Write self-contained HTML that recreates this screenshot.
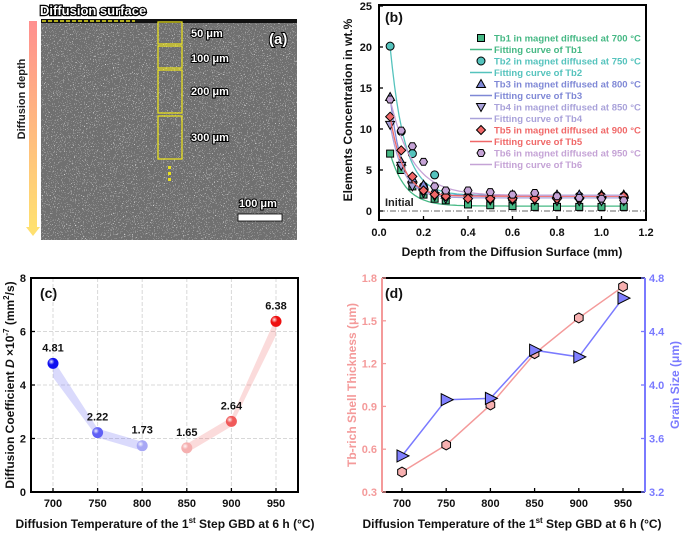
<!DOCTYPE html>
<html><head><meta charset="utf-8"><style>
body{margin:0;background:#fff;}
svg{display:block;font-family:"Liberation Sans",Arial,sans-serif;}
text{font-weight:bold;}
</style></head><body>
<svg id="fig" width="685" height="533" viewBox="0 0 685 533" xmlns="http://www.w3.org/2000/svg">
<defs>
<filter id="sem" x="0" y="0" width="100%" height="100%">
<feTurbulence type="fractalNoise" baseFrequency="0.9" numOctaves="2" seed="3"/>
<feColorMatrix type="matrix" values="0 0 0 0 0  0 0 0 0 0  0 0 0 0 0  2.6 0 0 0 -1.15"/>
<feComponentTransfer><feFuncA type="discrete" tableValues="0 0 0 0.7 1"/></feComponentTransfer>
<feColorMatrix type="matrix" values="0 0 0 0 1  0 0 0 0 1  0 0 0 0 1  0 0 0 1 0"/>
</filter>
<linearGradient id="arrowGrad" x1="0" y1="0" x2="0" y2="1">
<stop offset="0" stop-color="#ff8f8f"/><stop offset="1" stop-color="#ffe070"/>
</linearGradient>
<radialGradient id="ball" cx="0.35" cy="0.35" r="0.7"><stop offset="0" stop-color="#fff" stop-opacity="0.9"/><stop offset="0.4" stop-color="#fff" stop-opacity="0"/></radialGradient>
</defs>

<!-- Panel a -->
<g>
<rect x="41" y="19" width="256" height="221" fill="#707070"/>
<rect x="41" y="19" width="256" height="221" fill="#fff" filter="url(#sem)" opacity="0.75"/>
<rect x="41" y="19" width="256" height="4" fill="#111"/>
<line x1="42" y1="21" x2="135" y2="21" stroke="#e8e020" stroke-width="1.5" stroke-dasharray="4,2"/>
<text x="40" y="15" font-size="13" fill="#fff" stroke="#000" stroke-width="2.5" paint-order="stroke">Diffusion surface</text>
<rect x="29" y="21" width="8" height="206" fill="url(#arrowGrad)"/>
<polygon points="26,227 40,227 33,236" fill="#ffe070"/>
<text transform="translate(25,99) rotate(-90)" font-size="11" text-anchor="middle" fill="#222">Diffusion depth</text>
<g fill="none" stroke="#e8e020" stroke-width="1.3">
<rect x="158" y="22" width="24" height="22"/>
<rect x="158" y="46" width="24" height="22"/>
<rect x="158" y="70" width="24" height="43"/>
<rect x="158" y="116" width="24" height="43"/>
</g>
<g fill="#e8e020"><rect x="168" y="166" width="3" height="3"/><rect x="168" y="172" width="3" height="3"/><rect x="168" y="178" width="3" height="3"/></g>
<g font-size="11" fill="#fff" stroke="#000" stroke-width="2" paint-order="stroke">
<text x="191" y="37">50 μm</text>
<text x="191" y="62">100 μm</text>
<text x="191" y="95">200 μm</text>
<text x="191" y="141">300 μm</text>
<text x="239" y="207">100 μm</text>
<text x="269" y="44" font-size="15">(a)</text>
</g>
<rect x="238" y="214" width="44" height="7" fill="#fff" stroke="#000" stroke-width="0.8"/>
</g>

<g id="pb"></g>
<g id="pc"></g>
<g id="pd"></g>
</svg>
<script>
// ---------- Panel b data ----------
const depths = [0.05,0.1,0.15,0.2,0.25,0.3,0.4,0.5,0.6,0.7,0.8,0.9,1.0,1.1];
const tb1 = [7,5,3,2,1.5,1.3,0.8,0.7,0.6,0.5,0.5,0.5,0.5,0.5];
const tb2 = [20.1,9.7,7,3,4.4,2,1.8,1.5,1.4,1.8,1.8,1.8,1.8,1.8];
const tb3 = [13.9,6,4,3.2,2.5,2,2,2,2,2,2,2,2,2];
const tb4 = [10.5,5.5,3,2.2,1.8,1.5,1.5,1.3,1.3,1.3,1.2,1.2,1.2,1.2];
const tb5 = [11.5,7.4,4.2,2.5,2,1.8,1.5,1.5,1.5,1.5,1.5,1.5,1.8,1.8];
const tb6 = [13.6,9.8,7.9,6,3,2.5,2.5,2.3,2,2.2,1.8,1.6,1.5,1.3];
const fitBase = [0.6,1.9,1.9,1.6,1.8,1.9];
const fitStart = [7,20,13.9,10.5,11.5,13.6];
const fitDecay = [0.07,0.065,0.05,0.06,0.06,0.1];
const seriesNames = ["Tb1 in magnet diffused at 700 °C","Tb2 in magnet diffused at 750 °C","Tb3 in magnet diffused at 800 °C","Tb4 in magnet diffused at 850 °C","Tb5 in magnet diffused at 900 °C","Tb6 in magnet diffused at 950 °C"];
const bXTicks = [0,0.2,0.4,0.6,0.8,1.0,1.2];
const bXTickLabels = ["0.0","0.2","0.4","0.6","0.8","1.0","1.2"];
const bYTicks = [0,5,10,15,20,25];
// ---------- Panel c data ----------
const temps = [700,750,800,850,900,950];
const dCoef = [4.81,2.22,1.73,1.65,2.64,6.38];
const dLabels = ["4.81","2.22","1.73","1.65","2.64","6.38"];
const cYTicks = [0,2,4,6,8];
// ---------- Panel d data ----------
const shellThk = [0.44,0.63,0.91,1.27,1.52,1.74];
const grainSize = [3.47,3.89,3.90,4.26,4.21,4.65];
const dLeftTicks = [0.3,0.6,0.9,1.2,1.5,1.8];
const dLeftLabels = ["0.3","0.6","0.9","1.2","1.5","1.8"];
const dRightTicks = [3.2,3.6,4.0,4.4,4.8];
const dRightLabels = ["3.2","3.6","4.0","4.4","4.8"];

const NS="http://www.w3.org/2000/svg";
function mk(parent,tag,attrs,txt){const e=document.createElementNS(NS,tag);for(const k in attrs)e.setAttribute(k,attrs[k]);if(txt!==undefined)e.textContent=txt;parent.appendChild(e);return e;}

// ===== Panel b =====
(function(){
const g=document.getElementById('pb');
const L=379,R=646,T=5,B=220;
const x=v=>L+(v-0)/(1.2)*(R-L);
const y=v=>211-(v/25)*(211-6);
const colors=["#45b884","#55c3bd","#7f88d6","#a9a2da","#f06868","#c5a3d6"];
const data=[tb1,tb2,tb3,tb4,tb5,tb6];
let e=mk(g,'rect',{x:L,y:T,width:R-L,height:B-T,fill:'none',stroke:'#000','stroke-width':2});


e=mk(g,'line',{x1:L,x2:R,y1:y(0),y2:y(0),stroke:'#666','stroke-dasharray':'6,2,1,2','stroke-width':1});


e=mk(g,'text',{x:385,y:206,'font-size':11,fill:'#222'},'Initial');


bXTicks.forEach((t,i)=>{
 e=mk(g,'line',{x1:x(t),x2:x(t),y1:B,y2:B-4,stroke:'#000','stroke-width':1.3});
 
 
 e=mk(g,'text',{x:x(t),y:236,'font-size':11,'text-anchor':'middle',fill:'#111'},bXTickLabels[i]);
 
 
});
bYTicks.forEach(t=>{
 e=mk(g,'line',{x1:L,x2:L+4,y1:y(t),y2:y(t),stroke:'#000','stroke-width':1.3});
 
 
 e=mk(g,'text',{x:372,y:y(t)+4,'font-size':11,'text-anchor':'end',fill:'#111'},String(t));
 
 
});
e=mk(g,'text',{x:512,y:256,'font-size':12,'text-anchor':'middle',fill:'#111'},'Depth from the Diffusion Surface (mm)');


e=mk(g,'text',{transform:'translate(352,110) rotate(-90)','font-size':12,'text-anchor':'middle',fill:'#111'},'Elements Concentration in wt.%');


e=mk(g,'text',{x:385,y:22,'font-size':14,fill:'#111'},'(b)');


function marker(par,k,cx,cy,col,s){
 let m;
 if(k==0)m=mk(par,'rect',{x:cx-s,y:cy-s,width:2*s,height:2*s});
 else if(k==1)m=mk(par,'circle',{cx:cx,cy:cy,r:s+0.5});
 else if(k==2)m=mk(par,'polygon',{points:`${cx},${cy-s-1} ${cx+s+1},${cy+s} ${cx-s-1},${cy+s}`});
 else if(k==3)m=mk(par,'polygon',{points:`${cx},${cy+s+1} ${cx+s+1},${cy-s} ${cx-s-1},${cy-s}`});
 else if(k==4)m=mk(par,'polygon',{points:`${cx},${cy-s-1} ${cx+s+1},${cy} ${cx},${cy+s+1} ${cx-s-1},${cy}`});
 else {let p=[];for(let a=0;a<6;a++){const an=Math.PI/3*a;p.push((cx+(s+0.5)*Math.cos(an))+','+(cy+(s+0.5)*Math.sin(an)));}m=mk(par,'polygon',{points:p.join(' ')});}
 m.setAttribute('fill',col);m.setAttribute('stroke','#000');m.setAttribute('stroke-width',1);
 return m;
}
data.forEach((arr,k)=>{
 let pts=[];
 for(let i=0;i<=105;i++){const xv=0.05+i*0.01;const yv=fitBase[k]+(fitStart[k]-fitBase[k])*Math.exp(-(xv-0.05)/fitDecay[k]);pts.push(x(xv).toFixed(1)+','+y(yv).toFixed(1));}
 e=mk(g,'polyline',{points:pts.join(' '),fill:'none',stroke:colors[k],'stroke-width':1.3});
 
 
 arr.forEach((v,i)=>{
  e=marker(g,k,x(depths[i]),y(v),colors[k],3.5);
  
  
 });
 const ly=38+k*23;
 e=marker(g,k,481,ly,colors[k],3.5);
 
 
 e=mk(g,'text',{x:494,y:ly+3.5,'font-size':9.5,fill:colors[k]},seriesNames[k]);
 
 
 e=mk(g,'line',{x1:470,x2:492,y1:ly+11.5,y2:ly+11.5,stroke:colors[k],'stroke-width':1.5});
 
 
 e=mk(g,'text',{x:494,y:ly+15,'font-size':9.5,fill:colors[k]},'Fitting curve of Tb'+(k+1));
 
 
});
})();

// ===== Panel c =====
(function(){
const g=document.getElementById('pc');
const L=31,R=298,T=278,B=492;
const x=v=>53+(v-700)/250*(276-53);
const y=v=>B-(v/8)*(B-T);
let e;
cYTicks.forEach(t=>{
 if(t>0&&t<8){e=mk(g,'line',{x1:L,x2:R,y1:y(t),y2:y(t),stroke:'#d8d8d8','stroke-dasharray':'4,2'});
 
 }
 e=mk(g,'line',{x1:L,x2:L+4,y1:y(t),y2:y(t),stroke:'#000','stroke-width':1.3});
 
 
 e=mk(g,'text',{x:26,y:y(t)+4,'font-size':11,'text-anchor':'end',fill:'#111'},String(t));
 
 
});
temps.forEach(t=>{
 e=mk(g,'line',{x1:x(t),x2:x(t),y1:T,y2:B,stroke:'#d8d8d8','stroke-dasharray':'4,2'});
 
 
 e=mk(g,'line',{x1:x(t),x2:x(t),y1:B,y2:B-4,stroke:'#000','stroke-width':1.3});
 
 
 e=mk(g,'text',{x:x(t),y:507,'font-size':11,'text-anchor':'middle',fill:'#111'},String(t));
 
 
});
function band(idx,col,name){
 const top=idx.map(i=>x(temps[i])+','+(y(dCoef[i])-4));
 const bot=idx.slice().reverse().map(i=>x(temps[i])+','+(y(dCoef[i])+(i==0||i==5?14:5)));
 e=mk(g,'polygon',{points:top.concat(bot).join(' '),fill:col,opacity:0.25});
 
 
}
band([0,1,2],'#6a6af5','trend-band-blue');
band([3,4,5],'#f07070','trend-band-red');
const cols=['#1010f0','#6060f5','#a8a8f5','#f5b0b0','#f05a5a','#ee1010'];
temps.forEach((t,i)=>{
 e=mk(g,'circle',{cx:x(t),cy:y(dCoef[i]),r:5.5,fill:cols[i]});
 
 
 mk(g,'circle',{cx:x(t),cy:y(dCoef[i]),r:5.5,fill:'url(#ball)'});
 e=mk(g,'text',{x:x(t),y:y(dCoef[i])-12,'font-size':11,'text-anchor':'middle',fill:'#111'},dLabels[i]);
 
 
});
e=mk(g,'rect',{x:L,y:T,width:R-L,height:B-T,fill:'none',stroke:'#000','stroke-width':2});


e=mk(g,'text',{x:40,y:298,'font-size':14,fill:'#111'},'(c)');


e=mk(g,'text',{x:165,y:528,'font-size':12,'text-anchor':'middle',fill:'#111'});
e.innerHTML='Diffusion Temperature of the 1<tspan font-size="8" dy="-5">st</tspan><tspan dy="5"> Step GBD at 6 h (°C)</tspan>';


e=mk(g,'text',{transform:'translate(14,385) rotate(-90)','font-size':12,'text-anchor':'middle',fill:'#111'});
e.innerHTML='Diffusion Coefficient <tspan font-style="italic">D</tspan> ×10<tspan font-size="8" dy="-5">-7</tspan><tspan dy="5"> (mm</tspan><tspan font-size="8" dy="-5">2</tspan><tspan dy="5">/s)</tspan>';


})();

// ===== Panel d =====
(function(){
const g=document.getElementById('pd');
const L=382,R=645,T=278,B=492;
const x=v=>402+(v-700)/250*(623-402);
const yl=v=>B-(v-0.3)/1.5*(B-T);
const yr=v=>B-(v-3.2)/1.6*(B-T);
const pink='#f49a9a',blue='#7a7aff';
let e;
e=mk(g,'line',{x1:L,x2:R,y1:T,y2:T,stroke:'#000','stroke-width':2});


e=mk(g,'line',{x1:L,x2:R,y1:B,y2:B,stroke:'#000','stroke-width':2});


e=mk(g,'line',{x1:L,x2:L,y1:T,y2:B,stroke:pink,'stroke-width':2});


e=mk(g,'line',{x1:R,x2:R,y1:T,y2:B,stroke:blue,'stroke-width':2});


dLeftTicks.forEach((t,i)=>{
 e=mk(g,'line',{x1:L,x2:L+4,y1:yl(t),y2:yl(t),stroke:pink,'stroke-width':1.3});
 
 
 e=mk(g,'text',{x:377,y:yl(t)+4,'font-size':11,'text-anchor':'end',fill:pink},dLeftLabels[i]);
 
 
});
dRightTicks.forEach((t,i)=>{
 e=mk(g,'line',{x1:R,x2:R-4,y1:yr(t),y2:yr(t),stroke:blue,'stroke-width':1.3});
 
 
 e=mk(g,'text',{x:649,y:yr(t)+4,'font-size':11,fill:blue},dRightLabels[i]);
 
 
});
temps.forEach(t=>{
 e=mk(g,'line',{x1:x(t),x2:x(t),y1:B,y2:B-4,stroke:'#000','stroke-width':1.3});
 
 
 e=mk(g,'text',{x:x(t),y:507,'font-size':11,'text-anchor':'middle',fill:'#111'},String(t));
 
 
});
e=mk(g,'polyline',{points:temps.map((t,i)=>x(t)+','+yl(shellThk[i])).join(' '),fill:'none',stroke:pink,'stroke-width':1.5});


e=mk(g,'polyline',{points:temps.map((t,i)=>x(t)+','+yr(grainSize[i])).join(' '),fill:'none',stroke:blue,'stroke-width':1.5});


temps.forEach((t,i)=>{
 const cx=x(t),cy=yl(shellThk[i]);let p=[];
 for(let a=0;a<6;a++){const an=Math.PI/3*a+Math.PI/6;p.push((cx+5*Math.cos(an))+','+(cy+5*Math.sin(an)));}
 e=mk(g,'polygon',{points:p.join(' '),fill:'#f7b0b0',stroke:'#000','stroke-width':1});
 
 
 const tx=x(t),ty=yr(grainSize[i]);
 e=mk(g,'polygon',{points:`${tx-5},${ty-6} ${tx+7},${ty} ${tx-5},${ty+6}`,fill:'#8080ff',stroke:'#000','stroke-width':1});
 
 
});
e=mk(g,'text',{x:385,y:298,'font-size':14,fill:'#111'},'(d)');


e=mk(g,'text',{x:512,y:528,'font-size':12,'text-anchor':'middle',fill:'#111'});
e.innerHTML='Diffusion Temperature of the 1<tspan font-size="8" dy="-5">st</tspan><tspan dy="5"> Step GBD at 6 h (°C)</tspan>';


e=mk(g,'text',{transform:'translate(356,385) rotate(-90)','font-size':12,'text-anchor':'middle',fill:pink},'Tb-rich Shell Thickness (μm)');


e=mk(g,'text',{transform:'translate(679,385) rotate(-90)','font-size':12,'text-anchor':'middle',fill:blue},'Grain Size (μm)');


})();
</script>
</body></html>
